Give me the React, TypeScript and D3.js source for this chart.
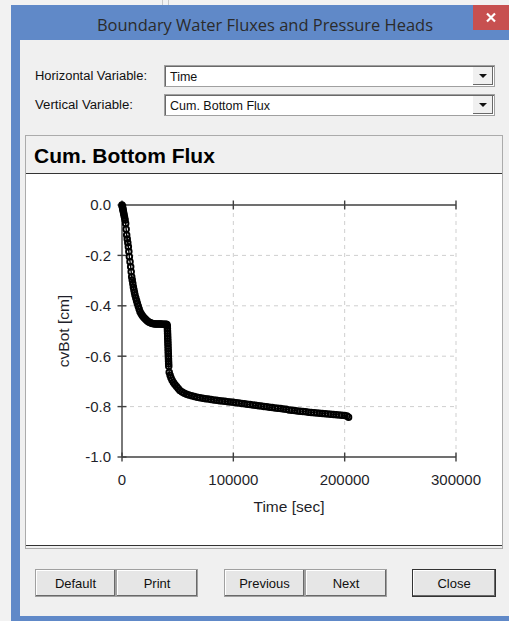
import React from "react";
import * as d3 from "d3";

// ---- Data ----
const timeSec: number[] = [
  0, 200, 400, 600, 800, 1000, 1300, 1600, 1900, 2300, 2800, 3300, 3750, 4200, 4700, 5200, 5700, 6150,
  6600, 7200, 7800, 8250, 8700, 9200, 9700, 10200, 10700, 11200, 11700, 12400, 13100, 13800, 14600,
  15400, 16200, 17200, 18200, 19200, 20300, 21400, 22500, 23700, 24900, 26100, 27300, 28500, 29700,
  30800, 31900, 33000, 34100, 35200, 36300, 37400, 38500, 39600, 40300,
  40700, 40780, 40860, 40940, 41020, 41100, 41180, 41260, 41340, 41420, 41500, 41580, 41660, 41740,
  41820, 41900, 42000,
  42400, 43200, 44000, 45000, 46200, 47500, 49000, 50500, 52000, 54000, 56000, 58000, 60000, 62500,
  65000, 67500, 70000, 72500, 75000, 77500, 80000, 82500, 85000, 87500, 90000, 92500, 95000, 97500,
  100000, 102500, 105000, 107500, 110000, 112500, 115000, 117500, 120000, 122500, 125000, 127500,
  130000, 132500, 135000, 137500, 140000, 142500, 145000, 147500, 150000, 152500, 155000, 157500,
  160000, 162500, 165000, 167500, 170000, 172500, 175000, 177500, 180000, 182500, 185000, 187500,
  190000, 192500, 195000, 197500, 200000, 202000, 203500,
];
const cumBottomFlux: number[] = [
  0, -0.004, -0.008, -0.012, -0.017, -0.022, -0.028, -0.035, -0.042, -0.05, -0.06, -0.073, -0.096,
  -0.119, -0.135, -0.15, -0.166, -0.185, -0.205, -0.225, -0.245, -0.265, -0.285, -0.298, -0.312,
  -0.325, -0.336, -0.347, -0.358, -0.369, -0.38, -0.391, -0.402, -0.413, -0.424, -0.432, -0.438,
  -0.444, -0.449, -0.454, -0.459, -0.463, -0.466, -0.468, -0.47, -0.471, -0.472,
  -0.472, -0.472, -0.472, -0.472, -0.472, -0.473, -0.473, -0.473, -0.473, -0.474,
  -0.48, -0.49, -0.5, -0.51, -0.52, -0.53, -0.54, -0.55, -0.56, -0.57, -0.58, -0.59, -0.6, -0.61,
  -0.62, -0.63, -0.64,
  -0.664, -0.676, -0.686, -0.695, -0.704, -0.712, -0.72, -0.728, -0.736, -0.742, -0.747, -0.751,
  -0.754, -0.757, -0.76, -0.763, -0.765, -0.767, -0.769, -0.77, -0.772, -0.774, -0.775, -0.777,
  -0.778, -0.779, -0.781, -0.782, -0.783, -0.785, -0.786, -0.788, -0.789, -0.791, -0.792, -0.794,
  -0.795, -0.797, -0.798, -0.8, -0.801, -0.803, -0.804, -0.806, -0.807, -0.808, -0.81, -0.811,
  -0.813, -0.814, -0.815, -0.817, -0.818, -0.819, -0.82, -0.822, -0.823, -0.824, -0.825, -0.826,
  -0.827, -0.828, -0.829, -0.83, -0.831, -0.832, -0.833, -0.834, -0.835, -0.837, -0.842,
];
const xTicks: number[] = [0, 100000, 200000, 300000];
const yTicks: number[] = [0, -0.2, -0.4, -0.6, -0.8, -1.0];
const buttonLabels: string[] = ["Default", "Print", "Previous", "Next", "Close"];

const FONT = "'Liberation Sans', Arial, sans-serif";

export default function App() {
  const x = d3.scaleLinear().domain([0, 300000]).range([122, 456]);
  const y = d3.scaleLinear().domain([-1, 0]).range([457, 205]);
  const pts = timeSec.map((t, i) => [t, cumBottomFlux[i]] as [number, number]);
  const line = d3
    .line<[number, number]>()
    .x((d) => x(d[0]))
    .y((d) => y(d[1]));

  const btnX = [
    [35, 116],
    [116, 198],
    [224, 305],
    [305, 387],
    [412, 496],
  ];

  const combo = (top: number, label: string, value: string) => (
    <g>
      <text x={35} y={top + 15} fontFamily={FONT} fontSize={12.5} fill="#111" textLength={label.length > 18 ? 112 : 98} lengthAdjust="spacingAndGlyphs">
        {label}
      </text>
      <rect x={164.5} y={top + 0.5} width={330} height={21} fill="#fff" stroke="#a0a0a0" />
      <line x1={165} y1={top + 1.5} x2={494} y2={top + 1.5} stroke="#696969" />
      <line x1={165.5} y1={top + 1} x2={165.5} y2={top + 21} stroke="#696969" />
      <text x={170} y={top + 16} fontFamily={FONT} fontSize={12.5} fill="#111">
        {value}
      </text>
      <rect x={473} y={top + 2} width={20} height={18} fill="#f0f0f0" />
      <line x1={473} y1={top + 19.5} x2={493} y2={top + 19.5} stroke="#696969" />
      <line x1={492.5} y1={top + 2} x2={492.5} y2={top + 20} stroke="#696969" />
      <path d={`M${479},${top + 9} L${487},${top + 9} L${483},${top + 13} Z`} fill="#111" />
    </g>
  );

  return (
    <svg
      width={509}
      height={621}
      style={{ position: "absolute", left: 0, top: 0, display: "block" }}
      fontFamily={FONT}
    >
      {/* background behind window */}
      <rect x={0} y={0} width={509} height={621} fill="#f2f2f2" />
      <line x1={162.5} y1={0} x2={162.5} y2={5} stroke="#c8c8c8" />
      <line x1={168.5} y1={0} x2={168.5} y2={5} stroke="#c8c8c8" />

      {/* window frame */}
      <rect x={11} y={5} width={498} height={616} fill="#6089c8" />
      <rect x={20} y={40} width={489} height={576} fill="#f0f0f0" />
      <text x={265} y={31} textAnchor="middle" fontFamily="'Open Sans', 'Noto Sans', sans-serif" fontSize={17} fill="#2b2b2b" textLength={336} lengthAdjust="spacingAndGlyphs">
        Boundary Water Fluxes and Pressure Heads
      </text>
      <rect x={473} y={5} width={36} height={25} fill="#c75050" />
      <path d="M487,13.5 L495,21.5 M495,13.5 L487,21.5" stroke="#fff" strokeWidth={2.2} />

      {combo(65, "Horizontal Variable:", "Time")}
      {combo(94, "Vertical Variable:", "Cum. Bottom Flux")}

      {/* chart panel */}
      <rect x={25.5} y={135.5} width={477} height={413} fill="#f0f0f0" stroke="#666" strokeDasharray="1,1" />
      <text x={34} y={163} fontFamily={FONT} fontSize={21} fontWeight="bold" fill="#000">
        Cum. Bottom Flux
      </text>
      <rect x={26} y={173} width={476} height={373} fill="#fff" />
      <line x1={26} y1={173.5} x2={502} y2={173.5} stroke="#333" />
      <line x1={26} y1={545.5} x2={502} y2={545.5} stroke="#333" />

      {/* grid */}
      {xTicks.slice(1).map((t) => (
        <line key={"gx" + t} x1={x(t)} x2={x(t)} y1={205} y2={457} stroke="#cfcfcf" strokeDasharray="4,4" />
      ))}
      {yTicks.slice(1, -1).map((v) => (
        <line key={"gy" + v} x1={122} x2={456} y1={y(v)} y2={y(v)} stroke="#cfcfcf" strokeDasharray="4,4" />
      ))}

      {/* axes */}
      <line x1={x(0)} x2={x(0)} y1={y(0)} y2={y(-1)} stroke="#404040" strokeWidth={1.4} />
      <line x1={x(0)} x2={x(300000)} y1={y(0)} y2={y(0)} stroke="#404040" strokeWidth={1.4} />
      <line x1={x(0)} x2={x(300000)} y1={y(-1)} y2={y(-1)} stroke="#404040" strokeWidth={1.4} />
      {yTicks.map((v) => (
        <g key={"yt" + v}>
          <line x1={x(0) - 4.5} x2={x(0) + 4.5} y1={y(v)} y2={y(v)} stroke="#404040" strokeWidth={1.4} />
          <text x={111} y={y(v)} dy="0.36em" textAnchor="end" fontSize={15} fill="#1f1f2a">
            {v.toFixed(1)}
          </text>
        </g>
      ))}
      {xTicks.map((t) => (
        <g key={"xt" + t}>
          <line x1={x(t)} x2={x(t)} y1={y(-1) - 4.5} y2={y(-1) + 4.5} stroke="#404040" strokeWidth={1.4} />
          <line x1={x(t)} x2={x(t)} y1={y(0) - 4.5} y2={y(0) + 4.5} stroke="#404040" strokeWidth={1.4} />
          <text x={x(t)} y={485} textAnchor="middle" fontSize={15} fill="#1f1f2a">
            {d3.format("d")(t)}
          </text>
        </g>
      ))}
      <text x={289} y={512} textAnchor="middle" fontSize={15.5} fill="#1f1f2a">
        Time [sec]
      </text>
      <text transform="translate(69,331) rotate(-90)" textAnchor="middle" fontSize={15.5} fill="#1f1f2a">
        cvBot [cm]
      </text>

      {/* series */}
      <path d={line(pts) || ""} fill="none" stroke="#000" strokeWidth={1.4} />
      {pts.map((d, i) => (
        <circle key={i} cx={x(d[0])} cy={y(d[1])} r={2.8} fill="none" stroke="#000" strokeWidth={1.9} />
      ))}

      {/* buttons */}
      {buttonLabels.map((b, i) => {
        const [x0, x1] = btnX[i];
        const isClose = b === "Close";
        return (
          <g key={b}>
            <rect x={x0 + 0.5} y={569.5} width={x1 - x0 - 1} height={27} fill="#e6e6e6" stroke={isClose ? "#333" : "#a0a0a0"} />
            <line x1={x0 + 1} y1={570.5} x2={x1 - 1} y2={570.5} stroke="#fff" />
            <line x1={x0 + 1.5} y1={570} x2={x0 + 1.5} y2={596} stroke="#fff" />
            <line x1={x0 + 1} y1={595.5} x2={x1 - 1} y2={595.5} stroke="#696969" />
            <line x1={x1 - 1.5} y1={570} x2={x1 - 1.5} y2={596} stroke="#696969" />
            <text x={(x0 + x1) / 2} y={588} textAnchor="middle" fontSize={13} fill="#111">
              {b}
            </text>
          </g>
        );
      })}
    </svg>
  );
}
